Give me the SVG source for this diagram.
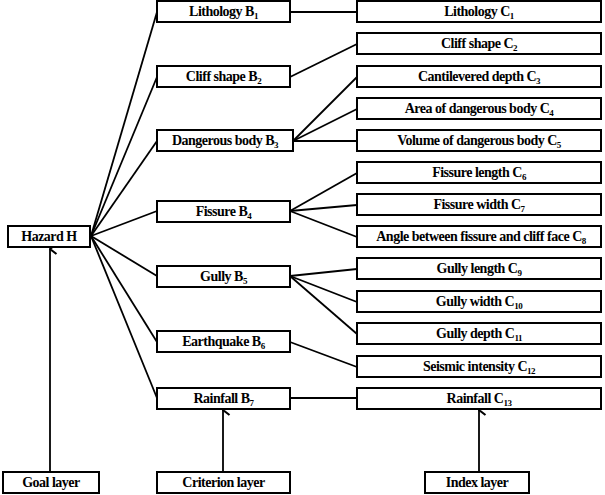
<svg xmlns="http://www.w3.org/2000/svg" width="605" height="495" viewBox="0 0 605 495">
<style>
.b{fill:#fff;stroke:#000;stroke-width:2}
.t{font-family:"Liberation Serif","Times New Roman",serif;font-weight:bold;font-size:14px;text-anchor:middle;letter-spacing:-0.5px}
.s{font-size:9px}
.c line{stroke:#000;stroke-width:1.8}
</style>
<defs>
<marker id="ah" markerWidth="14" markerHeight="12" refX="7" refY="1.5" orient="auto-start-reverse" markerUnits="userSpaceOnUse" viewBox="0 0 14 12">
<polyline points="2,8 7,1.5 12,8" fill="none" stroke="#000" stroke-width="2.2"/>
</marker>
</defs>
<rect width="605" height="495" fill="#fff"/>
<g class="c">
<line x1="91" y1="236" x2="157" y2="12"/>
<line x1="91" y1="236" x2="157" y2="77"/>
<line x1="91" y1="236" x2="157" y2="141"/>
<line x1="91" y1="236" x2="157" y2="211"/>
<line x1="91" y1="236" x2="157" y2="276"/>
<line x1="91" y1="236" x2="157" y2="342"/>
<line x1="91" y1="236" x2="157" y2="398"/>
<line x1="290" y1="12" x2="357" y2="12"/>
<line x1="290" y1="77" x2="357" y2="44"/>
<line x1="293" y1="141" x2="357" y2="77"/>
<line x1="293" y1="141" x2="357" y2="109"/>
<line x1="293" y1="141" x2="357" y2="141"/>
<line x1="290" y1="211" x2="357" y2="173"/>
<line x1="290" y1="211" x2="357" y2="205"/>
<line x1="290" y1="211" x2="357" y2="237"/>
<line x1="290" y1="276" x2="357" y2="269"/>
<line x1="290" y1="276" x2="357" y2="302"/>
<line x1="290" y1="276" x2="357" y2="334"/>
<line x1="290" y1="342" x2="357" y2="367"/>
<line x1="290" y1="398" x2="357" y2="398"/>
<line x1="50" y1="472" x2="50" y2="249" marker-end="url(#ah)"/>
<line x1="223" y1="472" x2="223" y2="410" marker-end="url(#ah)"/>
<line x1="479" y1="472" x2="479" y2="410" marker-end="url(#ah)"/>
</g>
<g id="H"><rect class="b" x="8" y="226" width="82" height="21"/><text class="t" x="49" y="241">Hazard H</text></g>
<g id="B1"><rect class="b" x="157" y="1" width="133" height="21"/><text class="t" x="223.5" y="16">Lithology  B<tspan class="s" dy="3">1</tspan></text></g>
<g id="B2"><rect class="b" x="157" y="66" width="133" height="21"/><text class="t" x="223.5" y="81">Cliff shape B<tspan class="s" dy="3">2</tspan></text></g>
<g id="B3"><rect class="b" x="157" y="130" width="136" height="21"/><text class="t" x="225" y="145">Dangerous body B<tspan class="s" dy="3">3</tspan></text></g>
<g id="B4"><rect class="b" x="157" y="201" width="133" height="21"/><text class="t" x="223.5" y="216">Fissure B<tspan class="s" dy="3">4</tspan></text></g>
<g id="B5"><rect class="b" x="157" y="266" width="133" height="21"/><text class="t" x="223.5" y="281">Gully B<tspan class="s" dy="3">5</tspan></text></g>
<g id="B6"><rect class="b" x="157" y="331" width="133" height="21"/><text class="t" x="223.5" y="346">Earthquake B<tspan class="s" dy="3">6</tspan></text></g>
<g id="B7"><rect class="b" x="157" y="388" width="133" height="21"/><text class="t" x="223.5" y="403">Rainfall B<tspan class="s" dy="3">7</tspan></text></g>
<g id="C1"><rect class="b" x="357" y="1" width="244" height="21"/><text class="t" x="479" y="16">Lithology C<tspan class="s" dy="3">1</tspan></text></g>
<g id="C2"><rect class="b" x="357" y="33" width="244" height="21"/><text class="t" x="479" y="48">Cliff shape C<tspan class="s" dy="3">2</tspan></text></g>
<g id="C3"><rect class="b" x="357" y="66" width="244" height="21"/><text class="t" x="479" y="81">Cantilevered depth C<tspan class="s" dy="3">3</tspan></text></g>
<g id="C4"><rect class="b" x="357" y="98" width="244" height="21"/><text class="t" x="479" y="113">Area of dangerous body C<tspan class="s" dy="3">4</tspan></text></g>
<g id="C5"><rect class="b" x="357" y="130" width="244" height="21"/><text class="t" x="479" y="145">Volume of dangerous body C<tspan class="s" dy="3">5</tspan></text></g>
<g id="C6"><rect class="b" x="357" y="162" width="244" height="21"/><text class="t" x="479" y="177">Fissure length C<tspan class="s" dy="3">6</tspan></text></g>
<g id="C7"><rect class="b" x="357" y="194" width="244" height="21"/><text class="t" x="479" y="209">Fissure width C<tspan class="s" dy="3">7</tspan></text></g>
<g id="C8"><rect class="b" x="357" y="226" width="244" height="21"/><text class="t" x="481" y="241">Angle between fissure and cliff face C<tspan class="s" dy="3">8</tspan></text></g>
<g id="C9"><rect class="b" x="357" y="258" width="244" height="21"/><text class="t" x="479" y="273">Gully length C<tspan class="s" dy="3">9</tspan></text></g>
<g id="C10"><rect class="b" x="357" y="291" width="244" height="21"/><text class="t" x="479" y="306">Gully width C<tspan class="s" dy="3">10</tspan></text></g>
<g id="C11"><rect class="b" x="357" y="323" width="244" height="21"/><text class="t" x="479" y="338">Gully depth C<tspan class="s" dy="3">11</tspan></text></g>
<g id="C12"><rect class="b" x="357" y="356" width="244" height="21"/><text class="t" x="479" y="371">Seismic intensity C<tspan class="s" dy="3">12</tspan></text></g>
<g id="C13"><rect class="b" x="357" y="388" width="244" height="21"/><text class="t" x="479" y="403">Rainfall C<tspan class="s" dy="3">13</tspan></text></g>
<g id="goal"><rect class="b" x="3" y="472" width="96" height="21"/><text class="t" x="51" y="487">Goal layer</text></g>
<g id="criterion"><rect class="b" x="157" y="472" width="133" height="21"/><text class="t" x="223.5" y="487">Criterion layer</text></g>
<g id="index"><rect class="b" x="425" y="472" width="104" height="21"/><text class="t" x="477" y="487">Index layer</text></g>
</svg>
